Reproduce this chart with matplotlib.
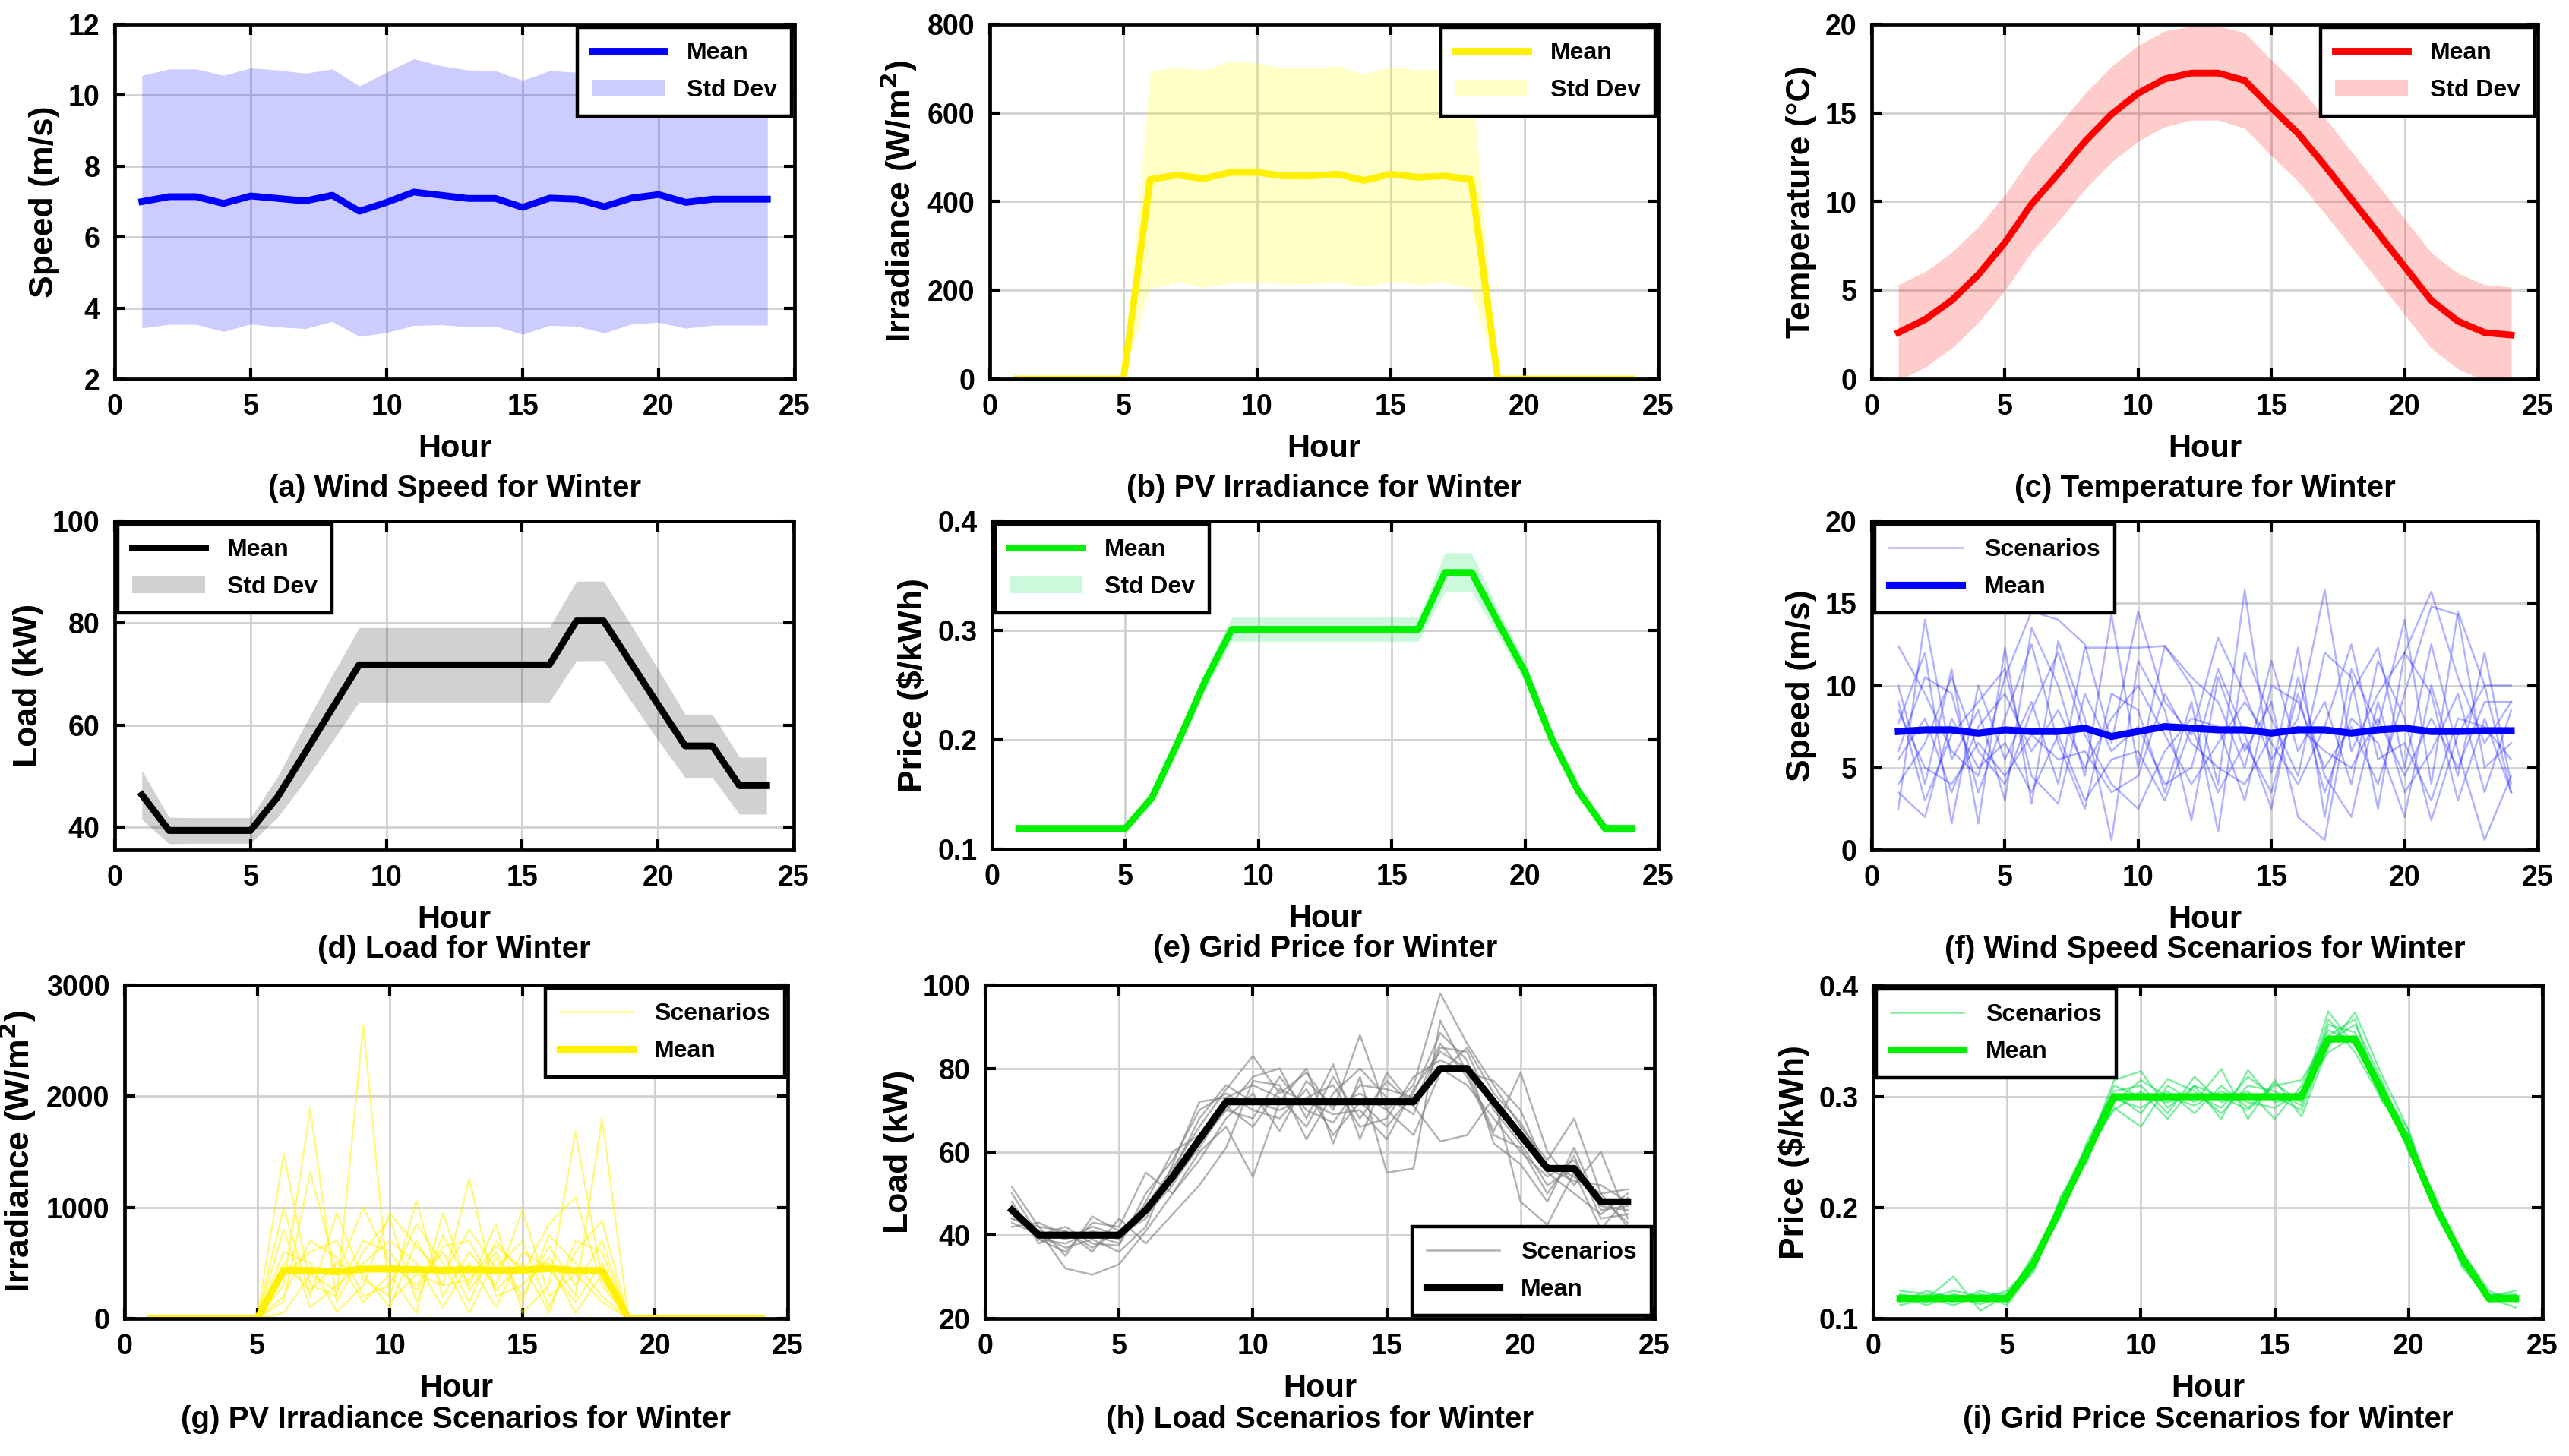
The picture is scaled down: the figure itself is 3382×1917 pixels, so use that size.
import numpy as np
import matplotlib
matplotlib.use("Agg")
import matplotlib.pyplot as plt

plt.rcParams['font.family'] = ['Liberation Sans', 'DejaVu Sans']
plt.rcParams['font.weight'] = 'bold'
plt.rcParams['axes.labelweight'] = 'bold'
plt.rcParams['mathtext.default'] = 'bf'

hours = np.arange(1, 25)

# (a) wind speed
wind_mean = [7.0, 7.14, 7.14, 6.95, 7.16, 7.09, 7.02, 7.18, 6.73, 6.98, 7.27, 7.18,
             7.09, 7.09, 6.84, 7.1, 7.07, 6.86, 7.1, 7.2, 6.98, 7.07, 7.07, 7.07]
wind_std = [3.56, 3.6, 3.6, 3.61, 3.61, 3.62, 3.6, 3.56, 3.53, 3.67, 3.76, 3.65,
            3.62, 3.6, 3.58, 3.59, 3.58, 3.56, 3.55, 3.6, 3.55, 3.55, 3.55, 3.55]

# (b) PV irradiance
pv_mean = [0, 0, 0, 0, 0, 450, 460, 452, 466, 466, 458, 458,
           462, 448, 462, 455, 458, 450, 0, 0, 0, 0, 0, 0]
pv_std = [0, 0, 0, 0, 0, 245, 242, 245, 250, 247, 244, 243,
          244, 240, 242, 242, 241, 244, 0, 0, 0, 0, 0, 0]

# (c) temperature
temp_mean = [2.62, 3.35, 4.43, 5.88, 7.69, 9.86, 11.58, 13.39, 14.93, 16.11, 16.92, 17.25,
             17.25, 16.83, 15.29, 13.85, 12.04, 10.14, 8.24, 6.33, 4.43, 3.26, 2.62, 2.48]
temp_std = [2.7, 2.7, 2.7, 2.7, 2.7, 2.7, 2.7, 2.7, 2.7, 2.7, 2.7, 2.65,
            2.65, 2.7, 2.7, 2.7, 2.7, 2.7, 2.7, 2.7, 2.7, 2.7, 2.7, 2.7]

# (d) load
load_mean = [46.3, 39.3, 39.3, 39.3, 39.3, 45.9, 54.5, 63.2, 71.8, 71.8, 71.8, 71.8,
             71.8, 71.8, 71.8, 71.8, 80.4, 80.4, 72.2, 64.0, 55.9, 55.9, 48.1, 48.1]
load_std = [4.8, 2.6, 2.5, 2.5, 2.5, 4.0, 5.5, 6.5, 7.3, 7.3, 7.3, 7.3,
            7.3, 7.3, 7.3, 7.3, 7.8, 7.8, 7.5, 7.0, 6.2, 6.2, 5.6, 5.6]

# (e) grid price
price_mean = [0.119, 0.119, 0.119, 0.119, 0.119, 0.147, 0.199, 0.254, 0.301, 0.301, 0.301, 0.301,
              0.301, 0.301, 0.301, 0.301, 0.353, 0.353, 0.307, 0.262, 0.201, 0.153, 0.119, 0.119]
price_std = [0.003, 0.003, 0.003, 0.003, 0.003, 0.006, 0.008, 0.009, 0.011, 0.011, 0.011, 0.011,
             0.011, 0.011, 0.011, 0.011, 0.018, 0.018, 0.012, 0.01, 0.008, 0.006, 0.004, 0.004]

# (f) wind speed scenarios
wind_sc_mean = [7.2, 7.3, 7.3, 7.1, 7.3, 7.2, 7.2, 7.4, 6.9, 7.2, 7.5, 7.4,
                7.3, 7.3, 7.1, 7.3, 7.3, 7.1, 7.3, 7.4, 7.2, 7.2, 7.25, 7.25]
wind_scenarios = [
    [12.4, 9.5, 6.0, 4.5, 10.5, 14.5, 14.0, 12.5, 6.5, 14.5, 9.0, 7.0, 12.9, 9.5, 5.5, 8.0, 15.8, 6.0, 9.5, 12.0, 15.7, 10.5, 6.5, 9.0],
    [2.5, 14.0, 5.5, 8.5, 3.0, 13.5, 10.0, 4.5, 14.3, 5.0, 12.4, 10.0, 4.0, 15.8, 4.7, 12.3, 2.0, 11.0, 7.5, 14.0, 4.0, 14.5, 10.0, 3.5],
    [10.0, 4.0, 11.0, 1.6, 12.3, 2.8, 12.7, 8.0, 0.6, 11.5, 8.5, 1.8, 10.5, 6.0, 9.0, 2.0, 0.6, 9.5, 12.3, 5.0, 12.5, 6.0, 0.6, 4.5],
    [7.7, 12.0, 1.6, 10.0, 5.5, 9.0, 4.0, 12.3, 12.3, 12.3, 12.4, 10.5, 9.0, 5.0, 11.5, 6.0, 9.0, 4.0, 11.5, 8.0, 1.8, 7.0, 10.0, 10.0],
    [6.0, 10.5, 9.5, 3.5, 8.0, 12.5, 6.5, 2.5, 9.5, 8.5, 3.5, 9.0, 1.1, 12.0, 8.0, 4.5, 12.0, 10.5, 2.5, 12.0, 9.5, 3.0, 8.0, 3.5],
    [4.0, 6.5, 10.5, 6.0, 4.0, 8.5, 12.0, 7.0, 4.0, 2.5, 6.0, 8.0, 7.5, 3.0, 10.0, 9.0, 5.0, 7.5, 4.0, 9.5, 14.8, 14.3, 5.0, 6.5],
    [9.0, 3.0, 7.0, 9.0, 11.0, 4.5, 2.8, 9.5, 6.0, 7.5, 4.0, 5.0, 11.0, 7.0, 2.5, 10.5, 4.5, 2.0, 9.0, 3.5, 6.0, 9.5, 3.5, 8.5],
    [5.5, 8.0, 3.5, 7.5, 9.5, 6.0, 8.5, 5.0, 8.0, 10.0, 7.0, 4.0, 6.5, 9.0, 6.5, 4.0, 7.5, 12.5, 5.5, 6.5, 3.0, 8.0, 7.5, 5.5],
    [8.5, 5.0, 4.0, 6.5, 4.5, 7.0, 5.5, 6.0, 3.5, 4.5, 9.5, 6.5, 5.0, 4.0, 7.0, 7.5, 6.0, 5.0, 8.0, 4.5, 8.0, 5.0, 9.0, 9.0],
    [3.5, 2.0, 8.0, 5.0, 6.5, 3.5, 7.0, 3.0, 5.5, 6.0, 3.0, 7.5, 3.5, 6.5, 3.5, 9.5, 3.5, 8.0, 6.5, 2.0, 10.0, 4.5, 12.0, 4.0],
]

# (g) PV irradiance scenarios
pv_sc_mean = [0, 0, 0, 0, 0, 435, 432, 420, 445, 445, 440, 435,
              440, 432, 435, 450, 432, 432, 0, 0, 0, 0, 0, 0]
pv_scenarios = [
    [0, 0, 0, 0, 0, 1480, 300, 200, 2640, 150, 400, 300, 1260, 200, 300, 550, 200, 1800, 0, 0, 0, 0, 0, 0],
    [0, 0, 0, 0, 0, 300, 1890, 150, 600, 900, 150, 750, 300, 850, 50, 300, 1680, 350, 0, 0, 0, 0, 0, 0],
    [0, 0, 0, 0, 0, 1000, 200, 950, 350, 200, 1060, 200, 600, 300, 980, 200, 400, 150, 0, 0, 0, 0, 0, 0],
    [0, 0, 0, 0, 0, 150, 1320, 400, 1000, 500, 300, 600, 150, 700, 400, 850, 1090, 300, 0, 0, 0, 0, 0, 0],
    [0, 0, 0, 0, 0, 600, 500, 60, 300, 950, 650, 400, 800, 450, 700, 100, 600, 880, 0, 0, 0, 0, 0, 0],
    [0, 0, 0, 0, 0, 200, 700, 550, 150, 400, 50, 950, 250, 600, 200, 650, 300, 700, 0, 0, 0, 0, 0, 0],
    [0, 0, 0, 0, 0, 800, 100, 300, 500, 700, 500, 100, 500, 100, 600, 450, 150, 500, 0, 0, 0, 0, 0, 0],
    [0, 0, 0, 0, 0, 400, 600, 700, 200, 300, 850, 500, 50, 550, 150, 750, 500, 200, 0, 0, 0, 0, 0, 0],
    [0, 0, 0, 0, 0, 50, 400, 250, 700, 600, 250, 650, 700, 250, 500, 50, 700, 600, 0, 0, 0, 0, 0, 0],
    [0, 0, 0, 0, 0, 500, 250, 500, 400, 100, 700, 300, 350, 650, 450, 500, 50, 400, 0, 0, 0, 0, 0, 0],
]

# (h) load scenarios
load_sc_mean = [46, 40, 40, 40, 40, 46, 54, 63, 72, 72, 72, 72,
                72, 72, 72, 72, 80, 80, 72, 64, 56, 56, 48, 48]
load_scenarios = [
    [51.5, 42, 35, 44.5, 41, 47, 56, 66, 75, 83, 74, 79, 70, 88, 70, 76, 98, 86, 76, 66, 58, 68, 50, 51],
    [44, 41, 32, 30.5, 33, 41, 50, 60, 66, 54, 72, 80, 62, 78, 55, 56, 91.5, 79, 65, 79, 60, 52, 60, 44],
    [47, 39, 38, 41, 39, 45, 52, 62, 70, 78, 80, 68, 81, 63, 79, 71, 62.5, 64, 73, 48, 42.5, 55, 41.5, 49],
    [43, 40, 42, 38, 37.5, 50, 58, 70, 74, 70, 68, 75, 64, 72, 66, 74, 88.5, 82, 62, 57, 48, 61, 46, 47],
    [48, 38, 41, 36, 44, 38, 45, 52, 61, 77, 76, 63, 74, 80, 73, 69, 85, 84, 70, 62, 52, 56, 49, 43],
    [45, 41, 39, 42, 40, 44, 55, 68, 76, 72, 70, 73, 76, 66, 68, 78, 82, 79, 77, 70, 55, 50, 45, 50],
    [42, 43, 40, 40, 38, 48, 60, 64, 70, 68, 78, 70, 67, 76, 75, 73, 80, 76, 68, 60, 54, 58, 47, 46],
    [46, 39, 36, 43, 42, 55, 50, 58, 68, 74, 65, 77, 71, 74, 70, 64, 79, 85, 74, 67, 56, 53, 52, 48],
    [50, 40, 37, 39, 36, 42, 57, 72, 73, 76, 73, 66, 78, 68, 77, 71, 86, 78, 64, 61, 50, 59, 44, 45],
    [44, 42, 41, 37, 41, 46, 53, 61, 71, 66, 75, 72, 69, 70, 63, 75, 84, 80, 71, 65, 57, 54, 50, 42],
]

# (i) grid price scenarios
price_sc_mean = [0.118, 0.118, 0.118, 0.118, 0.118, 0.15, 0.2, 0.25, 0.3, 0.3, 0.3, 0.3,
                 0.3, 0.3, 0.3, 0.3, 0.352, 0.352, 0.305, 0.258, 0.202, 0.155, 0.118, 0.118]
price_scenarios = [
    [0.122, 0.118, 0.138, 0.107, 0.121, 0.152, 0.205, 0.252, 0.315, 0.323, 0.29, 0.31, 0.28, 0.324, 0.295, 0.30, 0.377, 0.345, 0.31, 0.262, 0.205, 0.155, 0.12, 0.125],
    [0.115, 0.125, 0.118, 0.122, 0.112, 0.145, 0.195, 0.248, 0.29, 0.273, 0.31, 0.295, 0.325, 0.28, 0.315, 0.282, 0.345, 0.376, 0.32, 0.27, 0.198, 0.15, 0.118, 0.11],
    [0.12, 0.112, 0.121, 0.118, 0.125, 0.15, 0.198, 0.26, 0.305, 0.31, 0.285, 0.318, 0.295, 0.305, 0.28, 0.31, 0.36, 0.35, 0.302, 0.255, 0.2, 0.158, 0.122, 0.12],
    [0.118, 0.12, 0.115, 0.125, 0.118, 0.142, 0.21, 0.245, 0.298, 0.29, 0.305, 0.285, 0.31, 0.29, 0.312, 0.295, 0.37, 0.34, 0.298, 0.265, 0.195, 0.152, 0.115, 0.118],
    [0.125, 0.122, 0.12, 0.113, 0.12, 0.155, 0.2, 0.255, 0.31, 0.3, 0.295, 0.302, 0.29, 0.318, 0.3, 0.288, 0.35, 0.365, 0.315, 0.258, 0.21, 0.148, 0.121, 0.122],
    [0.112, 0.118, 0.125, 0.12, 0.115, 0.148, 0.192, 0.25, 0.295, 0.315, 0.3, 0.292, 0.305, 0.295, 0.29, 0.305, 0.34, 0.355, 0.305, 0.27, 0.202, 0.16, 0.125, 0.115],
    [0.118, 0.115, 0.122, 0.116, 0.119, 0.158, 0.202, 0.242, 0.302, 0.285, 0.316, 0.305, 0.285, 0.31, 0.305, 0.292, 0.365, 0.358, 0.312, 0.25, 0.207, 0.146, 0.119, 0.121],
    [0.121, 0.119, 0.112, 0.121, 0.122, 0.146, 0.208, 0.257, 0.288, 0.305, 0.28, 0.31, 0.3, 0.288, 0.31, 0.315, 0.355, 0.37, 0.296, 0.266, 0.196, 0.157, 0.116, 0.117],
]

W, H = 3382, 1917
fig = plt.figure(figsize=(W / 200, H / 200), dpi=200)


def make_ax(x0, x1, y0, y1):
    return fig.add_axes([x0 / W, 1 - y1 / H, (x1 - x0) / W, (y1 - y0) / H])


def style(ax, ylim, yticks, ylabel, caption, cap_off):
    ax.set_xlim(0, 25)
    ax.set_xticks(range(0, 26, 5))
    ax.set_ylim(*ylim)
    ax.set_yticks(yticks)
    ax.grid(True, color='#d0d0d0', lw=1.0)
    ax.set_axisbelow(True)
    for sp in ax.spines.values():
        sp.set_linewidth(1.7)
    ax.tick_params(direction='in', top=True, right=True, length=5, width=1.5,
                   labelsize=13.5, pad=7)
    for lab in ax.get_xticklabels() + ax.get_yticklabels():
        lab.set_fontweight('bold')
    ax.set_xlabel('Hour', fontsize=15, labelpad=6)
    ax.set_ylabel(ylabel, fontsize=16, labelpad=4)
    ax.annotate(caption, xy=(0.5, 0), xycoords='axes fraction', xytext=(0, cap_off),
                textcoords='offset points', ha='center', va='center', fontsize=14.5)


def add_legend(ax, loc, handles=None, labels=None):
    kw = dict(loc=loc, fontsize=11.5, fancybox=False, edgecolor='k', framealpha=1,
              borderaxespad=0.12, handlelength=3.0, borderpad=0.6, labelspacing=0.6,
              handletextpad=0.9)
    if handles is None:
        lg = ax.legend(**kw)
    else:
        lg = ax.legend(handles, labels, **kw)
    lg.get_frame().set_linewidth(1.6)


def band_panel(ax, mean, std, color, fcolor, falpha):
    m = np.array(mean)
    s = np.array(std)
    band = ax.fill_between(hours, m - s, m + s, color=fcolor, alpha=falpha, lw=0)
    line, = ax.plot(hours, m, color=color, lw=3.2)
    return [line, band]


def scen_panel(ax, scen, mean, color, salpha, mcolor):
    for k, row in enumerate(scen):
        ax.plot(hours, row, color=color, alpha=salpha, lw=0.9,
                label='Scenarios' if k == 0 else None)
    ax.plot(hours, mean, color=mcolor, lw=3.3, label='Mean')


panels_band = [
    ((151, 1046, 32, 499), wind_mean, wind_std, '#0000ff', '#0000ff', 0.2, (2, 12), range(2, 13, 2),
     'Speed (m/s)', '(a) Wind Speed for Winter', -52, 'upper right'),
    ((1303, 2183, 32, 499), pv_mean, pv_std, '#fff000', '#ffff00', 0.22, (0, 800), range(0, 801, 200),
     r'Irradiance (W/m$^{2}$)', '(b) PV Irradiance for Winter', -52, 'upper right'),
    ((2464, 3341, 32, 499), temp_mean, temp_std, '#ff0000', '#ff0000', 0.2, (0, 20), range(0, 21, 5),
     'Temperature (°C)', '(c) Temperature for Winter', -52, 'upper right'),
    ((151, 1045, 686, 1119), load_mean, load_std, '#000000', '#000000', 0.18, (35.5, 100), range(40, 101, 20),
     'Load (kW)', '(d) Load for Winter', -47, 'upper left'),
    ((1306, 2183, 686, 1118), price_mean, price_std, '#00f000', '#00e050', 0.2, (0.1, 0.4), [0.1, 0.2, 0.3, 0.4],
     'Price ($/kWh)', '(e) Grid Price for Winter', -47, 'upper left'),
]
for rect, m, s, c, fc, fa, yl, yt, ylab, cap, off, loc in panels_band:
    ax = make_ax(*rect)
    hs = band_panel(ax, m, s, c, fc, fa)
    style(ax, yl, yt, ylab, cap, off)
    add_legend(ax, loc, hs, ['Mean', 'Std Dev'])

panels_scen = [
    ((2464, 3341, 686, 1119), wind_scenarios, wind_sc_mean, '#0000ff', 0.3, '#0000ff', (0, 20), range(0, 21, 5),
     'Speed (m/s)', '(f) Wind Speed Scenarios for Winter', -47, 'upper left'),
    ((164, 1037, 1297, 1736), pv_scenarios, pv_sc_mean, '#fff000', 0.5, '#fff000', (0, 3000), range(0, 3001, 1000),
     r'Irradiance (W/m$^{2}$)', '(g) PV Irradiance Scenarios for Winter', -48, 'upper right'),
    ((1297, 2178, 1297, 1736), load_scenarios, load_sc_mean, '#808080', 0.6, '#000000', (20, 100), range(20, 101, 20),
     'Load (kW)', '(h) Load Scenarios for Winter', -48, 'lower right'),
    ((2466, 3347, 1298, 1736), price_scenarios, price_sc_mean, '#00dd44', 0.5, '#00f000', (0.1, 0.4), [0.1, 0.2, 0.3, 0.4],
     'Price ($/kWh)', '(i) Grid Price Scenarios for Winter', -48, 'upper left'),
]
for rect, sc, m, c, a, mc, yl, yt, ylab, cap, off, loc in panels_scen:
    ax = make_ax(*rect)
    scen_panel(ax, sc, m, c, a, mc)
    style(ax, yl, yt, ylab, cap, off)
    add_legend(ax, loc)

fig.savefig('out.png', dpi=200)
